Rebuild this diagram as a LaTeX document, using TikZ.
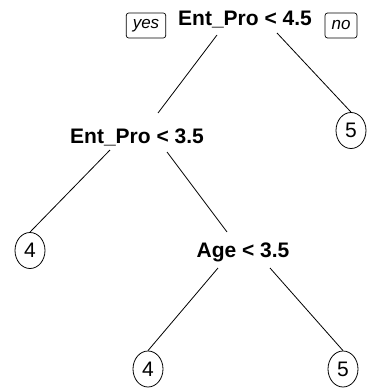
\documentclass[tikz,border=0pt]{standalone}
\usepackage{fontspec}
\setmainfont{Liberation Sans}
\usetikzlibrary{shapes.geometric}
\begin{document}
\begin{tikzpicture}[x=1pt,y=1pt,
  split/.style={font=\fontsize{21}{21}\selectfont\bfseries,inner sep=0pt,anchor=base},
  leaf/.style={draw,ellipse,line width=0.8pt,minimum width=30pt,minimum height=36pt,inner sep=0pt,font=\fontsize{21}{21}\selectfont},
  tag/.style={draw,rounded corners=2.5pt,line width=0.7pt,minimum height=25pt,inner xsep=6.5pt,inner ysep=0pt,font=\fontsize{17}{17}\selectfont\itshape},
  branch/.style={line width=0.8pt}]
\useasboundingbox (0,0) rectangle (367,-388);
\node[split] (root) at (245,-25) {Ent\_Pro < 4.5};
\node[tag] (yes) at (146,-25.5) {yes};
\node[tag] (no) at (341,-25.5) {no};
\node[split] (ep35) at (137,-143) {Ent\_Pro < 3.5};
\node[leaf] (l5a) at (351,-130.5) {5};
\node[leaf] (l4a) at (30,-250.5) {4};
\node[split] (age) at (243,-257) {Age < 3.5};
\node[leaf] (l4b) at (148,-369) {4};
\node[leaf] (l5b) at (343,-369) {5};
\draw[branch] ([shift={(-28,-10)}]root.base) -- ([shift={(21,30)}]ep35.base);
\draw[branch] ([shift={(32,-8)}]root.base) -- (l5a.north);
\draw[branch] ([shift={(-27,-7)}]ep35.base) -- (l4a.north);
\draw[branch] ([shift={(30,-9)}]ep35.base) -- ([shift={(-16,25)}]age.base);
\draw[branch] ([shift={(-25,-11)}]age.base) -- (l4b.north);
\draw[branch] ([shift={(27,-11)}]age.base) -- (l5b.north);
\end{tikzpicture}
\end{document}
